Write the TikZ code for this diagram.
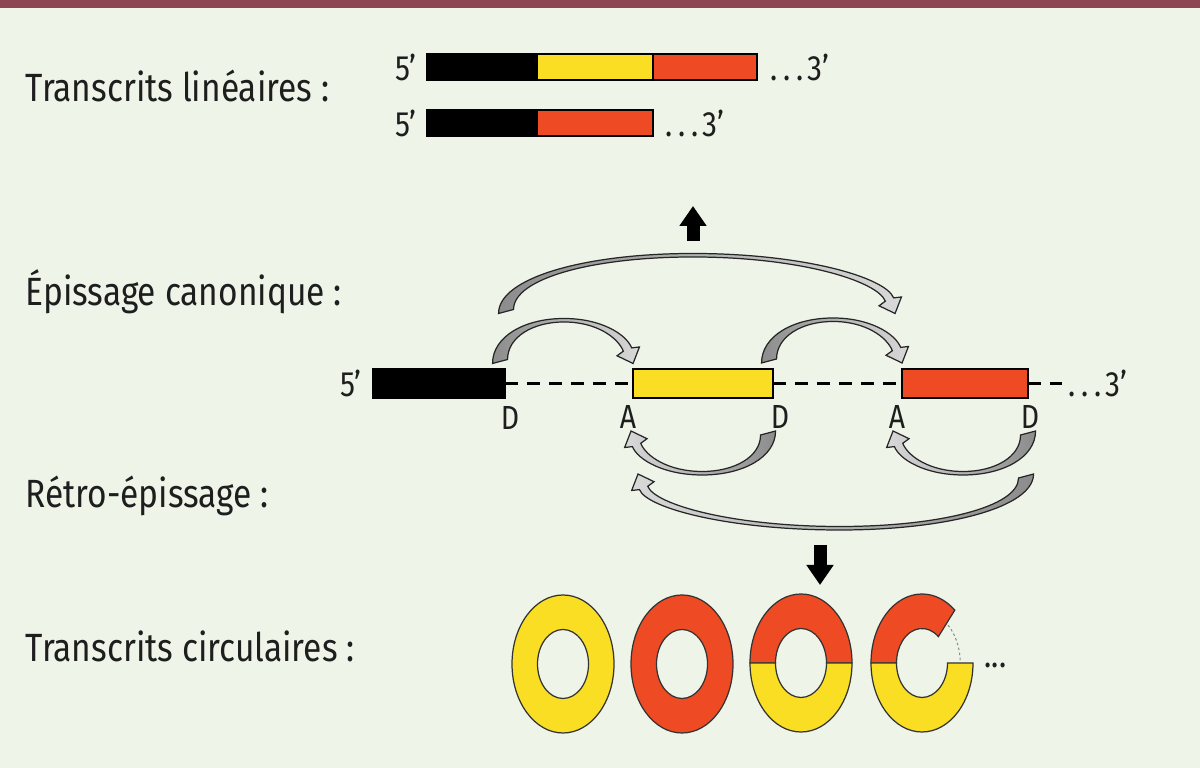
\documentclass[tikz,border=0pt]{standalone}
\usepackage{fontspec}
\setmainfont{Fira Sans}[FakeStretch=0.85]
\usetikzlibrary{positioning, arrows.meta, calc}

\definecolor{bgcol}{HTML}{EEF4E8}
\definecolor{barcol}{HTML}{8B4553}
\definecolor{exyellow}{HTML}{F9DE24}
\definecolor{exred}{HTML}{EE4A24}
\definecolor{txt}{HTML}{1E1E1E}

% spaced dots before the 3' end
\newcommand{\trail}{.\kern1.6pt.\kern1.6pt.\kern1.2pt}

% curved splicing arrow: #1 = span to the tip, #2 = height of the arc
\tikzset{
  pics/splice/.style 2 args={code={
    \pgfmathsetmacro\sL{#1}
    \pgfmathsetmacro\sH{#2}
    \pgfmathsetmacro\sA{0.48*\sL}
    \pgfmathsetmacro\kO{0.5*(\sH-13.6)}
    \pgfmathsetmacro\kI{0.5*(\sH-13.8)}
    \draw[ribbon]
      (-7.5,2) .. controls (-7.5,{2-0.6*(\sH+2)}) and ({\sA-0.55*(\sA+7.5)},-\sH) .. (\sA,-\sH)
      .. controls ({\sA+0.55*(\sL-1.4-\sA)},-\sH) and ({\sL-1.4-0.37*\kO},{-13.6-0.93*\kO}) .. ({\sL-1.4},-13.6)
      -- ({\sL+6.4},-14.5) -- (\sL,2) -- ({\sL-16},-5.7) -- ({\sL-9.7},-10.3)
      .. controls ({\sL-9.7-0.37*\kI},{-10.3-0.93*\kI}) and ({\sA+0.55*(\sL-9.7-\sA)},{-\sH+3.5}) .. (\sA,{-\sH+3.5})
      .. controls ({\sA-0.55*(\sA-7.5)},{-\sH+3.5}) and (7.5,{-2-0.6*(\sH-5.5)}) .. (7.5,-2)
      -- cycle;
  }}
}

\begin{document}
\begin{tikzpicture}[
  x=0.01cm, y=-0.01cm,
  rowlabel/.style={anchor=base west, inner sep=0pt, text=txt, font=\fontsize{11.2}{13}\selectfont},
  tag/.style={inner sep=0pt, text=txt, font=\fontsize{10}{12}\selectfont},
  site/.style={inner sep=0pt, anchor=north, text=txt, font=\fontsize{9.5}{11}\selectfont},
  exon/.style={draw=black, line width=0.4pt, inner sep=0pt, outer sep=0pt, minimum height=2.6mm},
  intron/.style={dash pattern=on 1.3mm off 0.9mm, line width=0.7pt},
  blockarr/.style={line width=1.3mm, -{Triangle[length=2mm, width=2.6mm]}},
  ringpart/.style={draw=black!80, line width=0.35pt},
  gapline/.style={draw=black!45, line width=0.3pt, dash pattern=on 0.25mm off 0.25mm},
  ribbon/.style={draw=black!85, line width=0.35pt, left color=black!45, right color=black!15},
  backward/.style={rotate=180, ribbon/.append style={left color=black!15, right color=black!45}},
]

% === Background and top rule ===
\fill[bgcol] (0,0) rectangle (1200,768);
\fill[barcol] (0,0) rectangle (1200,8.5);

% === Row titles ===
\node[rowlabel] (lin) at (25,102) {Transcrits linéaires :};
\node[rowlabel] (can) at (25,306) {Épissage canonique :};
\node[rowlabel] (retro) at (25,508) {Rétro-épissage :};
\node[rowlabel] (circ) at (25,662) {Transcrits circulaires :};

% === Linear transcripts ===
\node[exon, fill=black, minimum width=11mm] (l1a) at (482,67) {};
\node[exon, fill=exyellow, minimum width=11.6mm, right=0pt of l1a] (l1b) {};
\node[exon, fill=exred, minimum width=10.4mm, right=0pt of l1b] (l1c) {};
\node[tag, left=1mm of l1a] (l1five) {5’};
\node[tag, right=1.3mm of l1c] (l1three) {\trail 3’};

\node[exon, fill=black, minimum width=11mm] (l2a) at (482,123) {};
\node[exon, fill=exred, minimum width=11.6mm, right=0pt of l2a] (l2b) {};
\node[tag, left=1mm of l2a] (l2five) {5’};
\node[tag, right=1.2mm of l2b] (l2three) {\trail 3’};

% === Pre-mRNA ===
\node[exon, fill=black, minimum width=13.2mm, minimum height=3mm] (e1) at (439,383.5) {};
\node[exon, fill=exyellow, minimum width=14mm, minimum height=2.9mm] (e2) at (703,383.5) {};
\node[exon, fill=exred, minimum width=12.6mm, minimum height=2.9mm] (e3) at (965,383.5) {};
\coordinate (tail) at (1062,383.5);

\draw[intron] (e1.east) -- (e2.west);
\draw[intron] (e2.east) -- (e3.west);
\draw[intron] (e3.east) -- (tail);

\node[tag, left=1.1mm of e1] (gfive) {5’};
\node[tag, right=0.6mm of tail] (gthree) {\trail 3’};

% donor / acceptor sites
\node[site] (d1) at ([xshift=0.5mm, yshift=-0.7mm]e1.south east) {D};
\node[site] (a2) at ([xshift=-0.5mm, yshift=-0.7mm]e2.south west) {A};
\node[site] (d2) at ([xshift=0.7mm, yshift=-0.7mm]e2.south east) {D};
\node[site] (a3) at ([xshift=-0.5mm, yshift=-0.7mm]e3.south west) {A};
\node[site] (d3) at ([xshift=0.2mm, yshift=-0.7mm]e3.south east) {D};

% === Splicing arrows ===
\coordinate (u1) at ([shift={(-5,-7)}]e1.north east);
\coordinate (u2) at ([shift={(-4,-8)}]e2.north east);
\coordinate (u3) at ([shift={(1,-57)}]e1.north east);
\coordinate (r1) at ([shift={(-5,35)}]e2.south east);
\coordinate (r2) at ([shift={(0,35)}]e3.south east);
\coordinate (r3) at ([shift={(-2,78)}]e3.south east);

\pic (sp1) at (u1) {splice={133}{43}};
\pic (sp2) at (u2) {splice={133}{43}};
\pic (sp3) at (u3) {splice={389}{58}};
\pic[backward] (bs1) at (r1) {splice={137}{42}};
\pic[backward] (bs2) at (r2) {splice={135}{42}};
\pic[backward] (bs3) at (r3) {splice={388}{54}};

% === Products ===
\coordinate (upfoot) at (693,241);
\coordinate (uptip) at (693,206);
\draw[blockarr] (upfoot) -- (uptip);

\coordinate (dnfoot) at (820,545);
\coordinate (dntip) at (820,585);
\draw[blockarr] (dnfoot) -- (dntip);

% === Circular transcripts ===
\coordinate (c1) at (563,664);
\coordinate (c2) at (682,664);
\coordinate (c3) at (801,663);
\coordinate (c4) at (922,663);

\filldraw[ringpart, fill=exyellow, even odd rule]
  (c1) ellipse [x radius=51, y radius=69] (c1) ellipse [x radius=25.5, y radius=34.5];
\filldraw[ringpart, fill=exred, even odd rule]
  (c2) ellipse [x radius=51, y radius=69] (c2) ellipse [x radius=25.5, y radius=34.5];

\filldraw[ringpart, fill=exred]
  ($(c3)+(-51,0)$) arc[start angle=180, end angle=360, x radius=51, y radius=69]
  -- ($(c3)+(25.5,0)$) arc[start angle=360, end angle=180, x radius=25.5, y radius=34.5] -- cycle;
\filldraw[ringpart, fill=exyellow]
  ($(c3)+(51,0)$) arc[start angle=0, end angle=180, x radius=51, y radius=69]
  -- ($(c3)+(-25.5,0)$) arc[start angle=180, end angle=0, x radius=25.5, y radius=34.5] -- cycle;

\filldraw[ringpart, fill=exred]
  ($(c4)+(-51,0)$) arc[start angle=180, end angle=310, x radius=51, y radius=69]
  -- ($(c4)+({25.5*cos(310)},{34.5*sin(310)})$) arc[start angle=310, end angle=180, x radius=25.5, y radius=34.5] -- cycle;
\filldraw[ringpart, fill=exyellow]
  ($(c4)+(51,0)$) arc[start angle=0, end angle=180, x radius=51, y radius=69]
  -- ($(c4)+(-25.5,0)$) arc[start angle=180, end angle=0, x radius=25.5, y radius=34.5] -- cycle;
\draw[gapline] ($(c4)+({38.25*cos(313)},{51.75*sin(313)})$)
  arc[start angle=313, end angle=359, x radius=38.25, y radius=51.75];

\node[tag, anchor=base west] (more) at (984,668) {...};

\end{tikzpicture}
\end{document}
